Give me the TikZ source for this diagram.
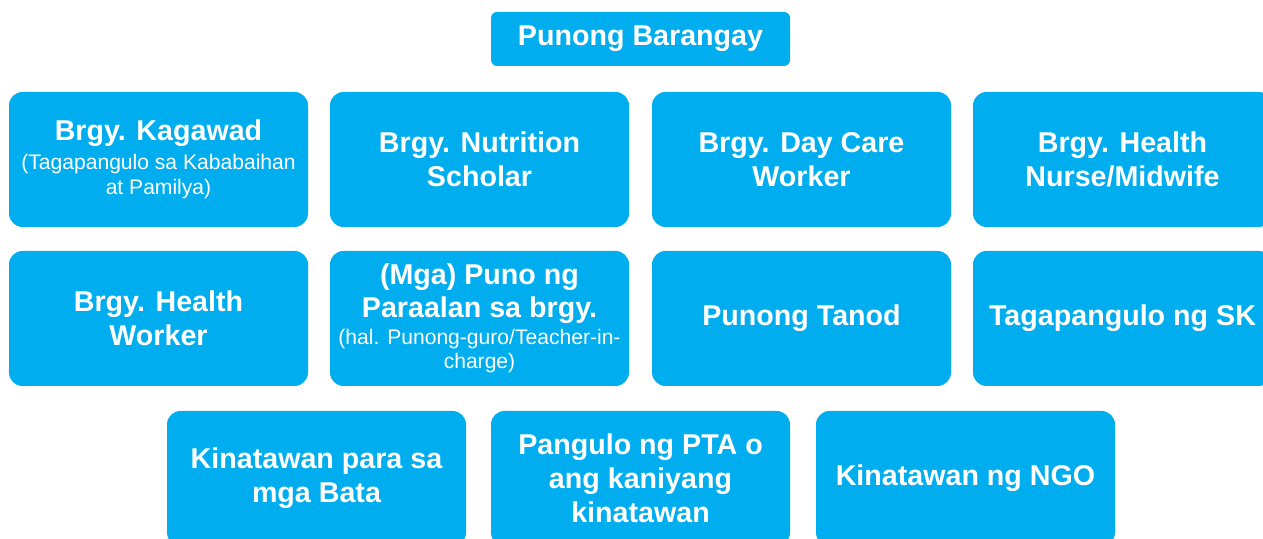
\documentclass[tikz,border=0pt]{standalone}
\usepackage{fontspec}
\setmainfont{Liberation Sans}
\usepackage{xcolor}
\usetikzlibrary{positioning}
\definecolor{boxblue}{RGB}{0,174,239}
\newcommand{\notefont}{\fontsize{12}{14}\selectfont\mdseries}

\begin{document}
\begin{tikzpicture}[
    member/.style={rectangle, fill=boxblue, rounded corners=0.27cm,
                   minimum width=5.98cm, minimum height=2.7cm,
                   text=white, align=center, inner sep=2pt,
                   font=\fontsize{16.3}{19.5}\selectfont\bfseries},
    head/.style={member, rounded corners=0.12cm, minimum height=1.08cm}
]
\useasboundingbox (0,0) rectangle (25.26,10.78);
\clip (0,0) rectangle (25.26,10.78);

% Top
\node[head] (pb) at (12.81,10.0) {Punong Barangay};

% First row
\node[member] (kagawad) at (3.17,7.59) {Brgy. Kagawad\\[-3pt]
  \notefont (Tagapangulo sa Kababaihan\\[-5.5pt] \notefont at Pamilya)};
\node[member] (nutrition) at (9.59,7.59) {Brgy. Nutrition\\ Scholar};
\node[member] (daycare) at (16.03,7.59) {Brgy. Day Care\\ Worker};
\node[member] (nurse) at (22.45,7.59) {Brgy. Health\\ Nurse/Midwife};

% Second row
\node[member] (hworker) at (3.17,4.41) {Brgy. Health\\ Worker};
\node[member] (school) at (9.59,4.41) {(Mga) Puno ng\\[-1pt] Paraalan sa brgy.\\[-4pt]
  \notefont (hal. Punong-guro/Teacher-in-\\[-5.5pt] \notefont charge)};
\node[member] (tanod) at (16.03,4.41) {Punong Tanod};
\node[member] (sk) at (22.45,4.41) {Tagapangulo ng SK};

% Third row
\node[member] (bata) at (6.33,1.21) {Kinatawan para sa\\ mga Bata};
\node[member] (pta) at (12.81,1.21) {Pangulo ng PTA o\\ ang kaniyang\\ kinatawan};
\node[member] (ngo) at (19.31,1.21) {Kinatawan ng NGO};

\end{tikzpicture}
\end{document}
